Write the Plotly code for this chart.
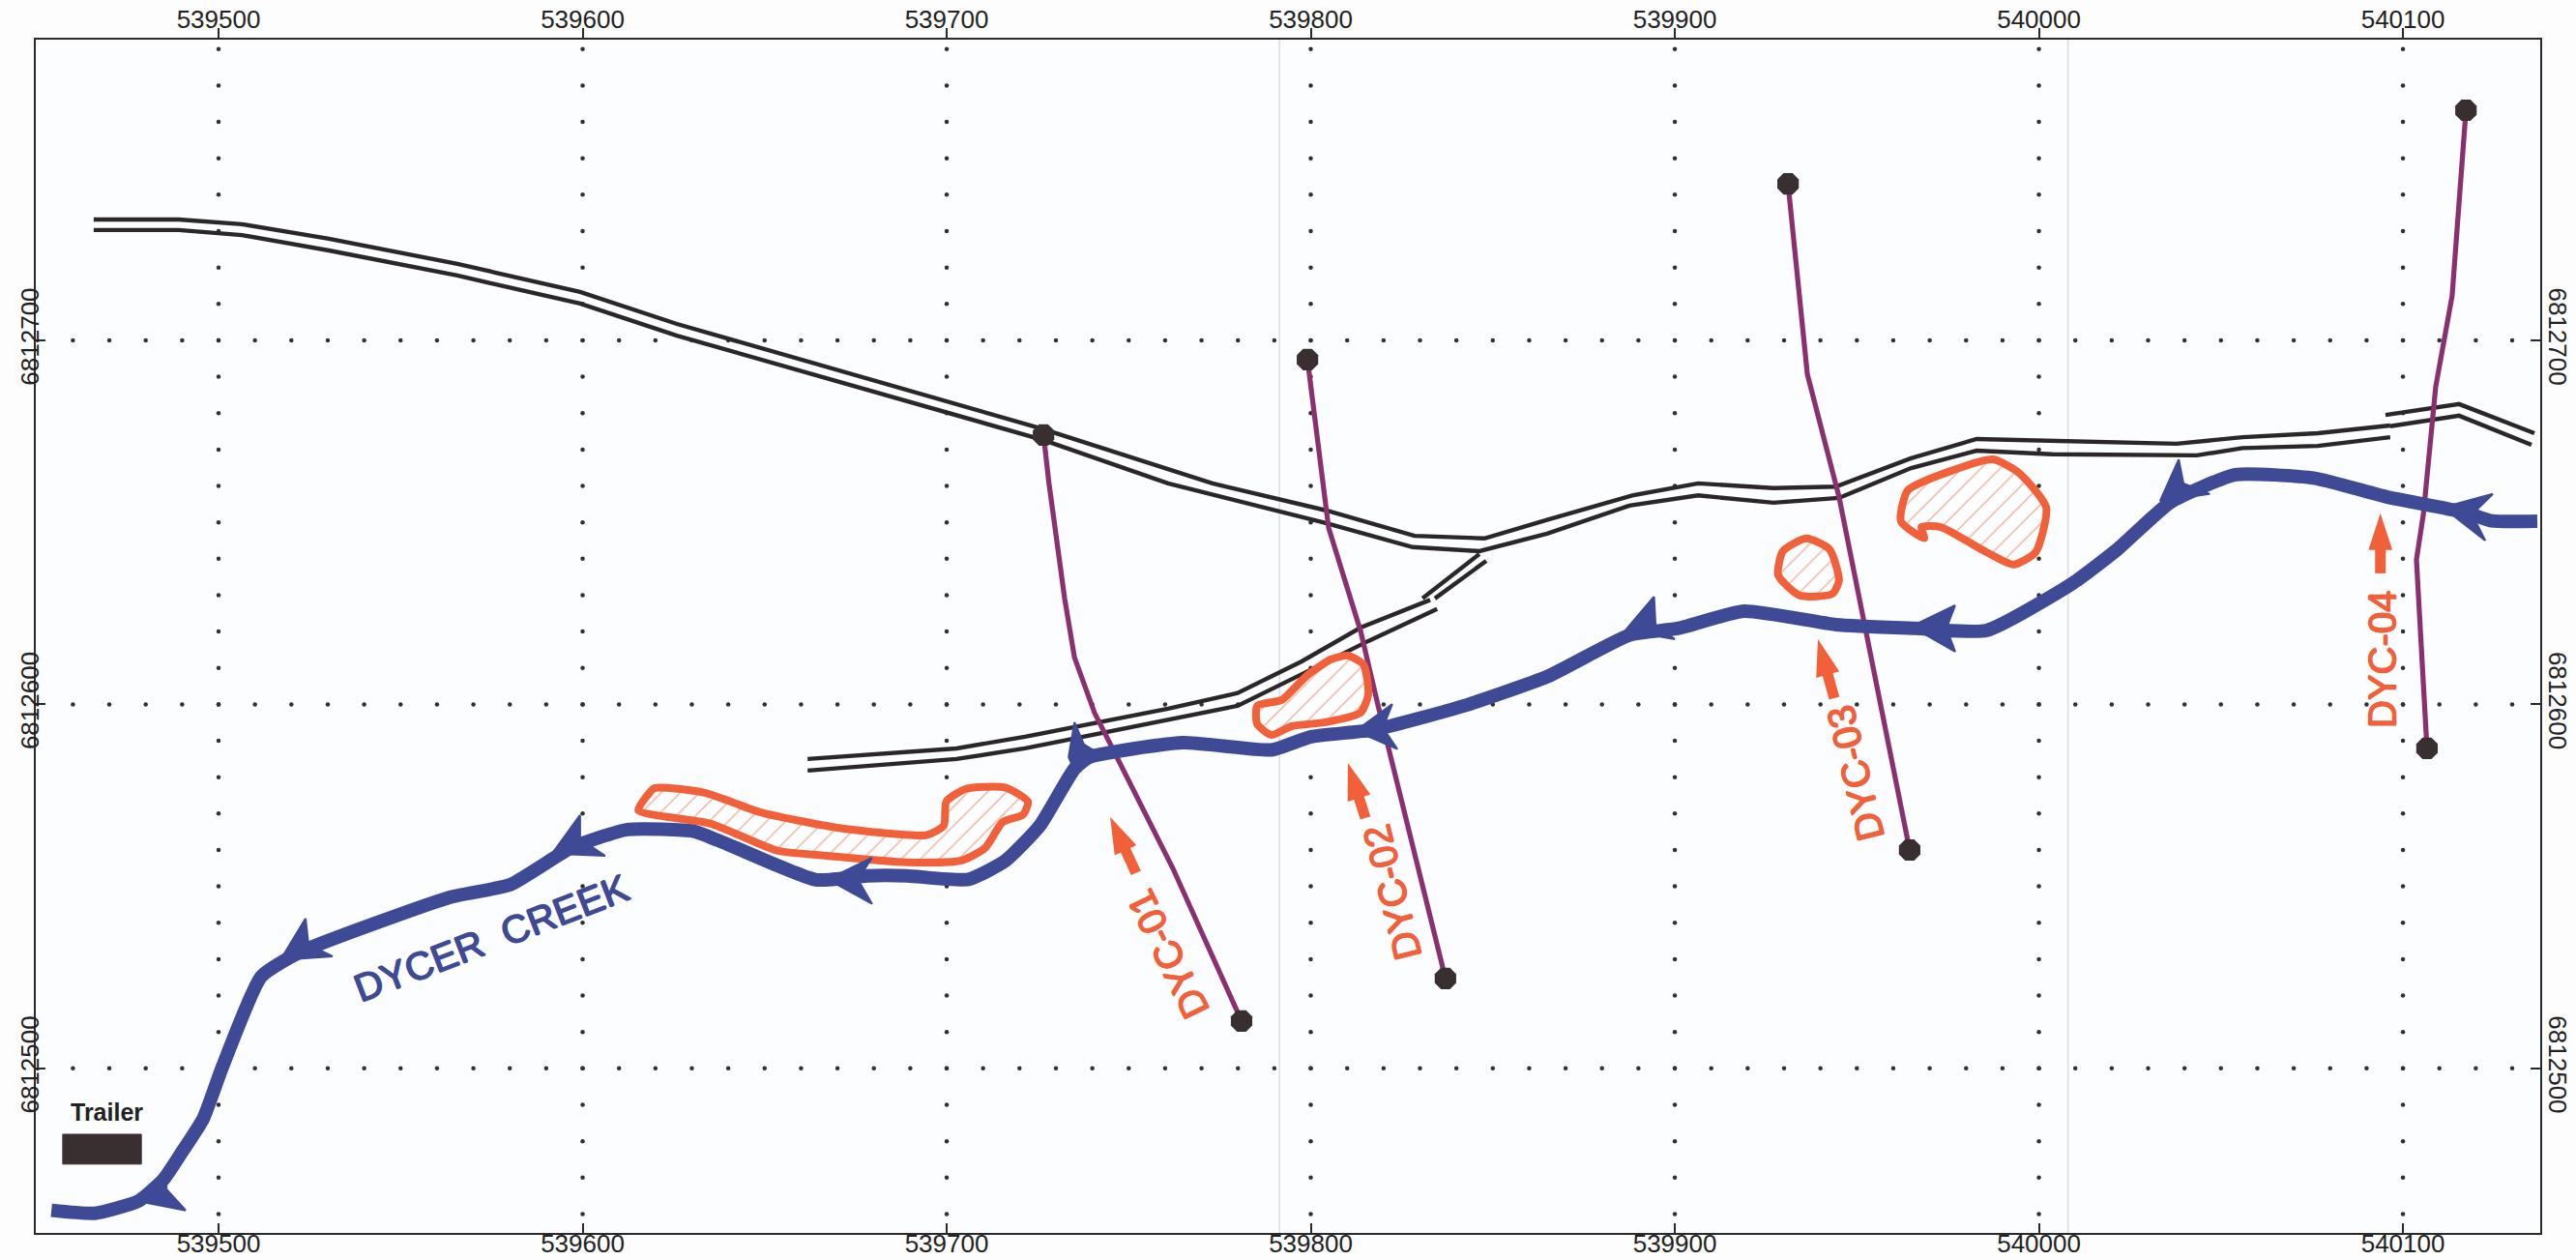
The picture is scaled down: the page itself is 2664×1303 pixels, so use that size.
import plotly.graph_objects as go

# Axis ticks
x_ticks = [539500, 539600, 539700, 539800, 539900, 540000, 540100]
y_ticks = [6812500, 6812600, 6812700]
x_range = [539449.8, 540137.7]
y_range = [6812454.8, 6812782.6]

# Road: main double line
road_upper_x = [539465.7, 539489.1, 539506.4, 539530.3, 539565.6, 539599.3, 539625.9, 539726.6, 539773.0, 539804.1, 539828.5, 539847.7, 539864.9, 539888.3, 539906.4, 539927.1, 539944.2, 539964.9, 539982.9, 540003.6, 540037.8, 540055.9, 540076.6, 540096.5]
road_upper_y = [6812733.2, 6812733.2, 6812731.9, 6812727.9, 6812721.0, 6812713.3, 6812704.5, 6812675.6, 6812660.7, 6812653.3, 6812646.3, 6812645.6, 6812650.7, 6812657.4, 6812660.7, 6812659.4, 6812659.8, 6812667.6, 6812672.9, 6812672.4, 6812671.6, 6812673.4, 6812674.5, 6812676.6]
road_lower_x = [539465.7, 539489.1, 539506.4, 539530.3, 539565.6, 539599.3, 539625.9, 539726.6, 539760.8, 539804.1, 539828.0, 539846.3, 539864.9, 539887.5, 539906.4, 539927.1, 539945.1, 539964.9, 539982.9, 540003.6, 540043.4, 540055.9, 540076.6, 540096.5]
road_lower_y = [6812730.3, 6812730.3, 6812728.9, 6812724.7, 6812717.8, 6812710.1, 6812701.3, 6812672.6, 6812660.7, 6812649.8, 6812643.2, 6812642.1, 6812646.9, 6812654.6, 6812657.4, 6812655.4, 6812656.7, 6812664.9, 6812669.7, 6812668.7, 6812668.4, 6812670.4, 6812671.0, 6812673.4]
# Road: north-east end
ne_upper_x = [540095.2, 540115.4, 540136.1]
ne_upper_y = [6812679.5, 6812682.5, 6812674.5]
ne_lower_x = [540096.5, 540115.4, 540135.3]
ne_lower_y = [6812676.4, 6812679.3, 6812671.3]
# Road: southern branch
branch_upper_x = [539661.8, 539702.7, 539721.5, 539760.8, 539779.9, 539797.5, 539813.7, 539832.8]
branch_upper_y = [6812585.0, 6812587.9, 6812591.1, 6812598.8, 6812603.1, 6812611.8, 6812621.1, 6812628.7]
branch_lower_x = [539661.8, 539702.7, 539721.5, 539760.8, 539779.9, 539798.8, 539815.8, 539834.7]
branch_lower_y = [6812581.8, 6812585.0, 6812587.9, 6812595.6, 6812599.6, 6812608.9, 6812617.4, 6812626.2]
spur_upper_x = [539830.7, 539846.3]
spur_upper_y = [6812629.1, 6812641.3]
spur_lower_x = [539834.1, 539848.2]
spur_lower_y = [6812629.1, 6812639.4]

# Creek centre line
creek_x = [539454.1, 539466.0, 539478.1, 539484.9, 539490.2, 539495.8, 539501.1, 539511.7, 539522.3, 539563.5, 539580.2, 539596.9, 539612.3, 539630.7, 539639.7, 539664.1, 539678.2, 539689.1, 539706.0, 539716.2, 539725.6, 539735.1, 539739.2, 539764.9, 539789.2, 539800.1, 539817.8, 539842.1, 539864.9, 539887.5, 539901.1, 539919.0, 539944.2, 539965.9, 539985.6, 540009.2, 540021.6, 540036.1, 540054.0, 540075.8, 540095.5, 540117.3, 540124.4, 540136.9]
creek_y = [6812461.0, 6812460.2, 6812463.6, 6812469.5, 6812477.4, 6812486.2, 6812500.5, 6812525.2, 6812531.9, 6812547.0, 6812550.5, 6812560.6, 6812565.6, 6812565.1, 6812561.6, 6812551.8, 6812552.9, 6812552.9, 6812551.9, 6812557.1, 6812566.7, 6812582.3, 6812585.5, 6812589.5, 6812587.5, 6812591.1, 6812593.1, 6812599.6, 6812607.6, 6812619.0, 6812620.9, 6812625.6, 6812621.9, 6812620.9, 6812620.3, 6812633.2, 6812642.6, 6812655.5, 6812663.1, 6812662.1, 6812657.0, 6812652.7, 6812650.4, 6812650.3]

# Creek flow arrowheads
head_1_x = [539491.0, 539477.4, 539485.7, 539485.7]
head_1_y = [6812461.0, 6812463.6, 6812472.6, 6812466.8]
head_2_x = [539523.9, 539517.0, 539531.3, 539524.7]
head_2_y = [6812541.2, 6812529.8, 6812530.8, 6812534.0]
head_3_x = [539599.3, 539591.6, 539606.2, 539599.3]
head_3_y = [6812569.6, 6812559.0, 6812558.4, 6812563.0]
head_4_x = [539679.5, 539667.3, 539679.5, 539675.6]
head_4_y = [6812557.9, 6812551.9, 6812545.2, 6812551.9]
head_5_x = [539735.1, 539733.5, 539735.1, 539742.5, 539737.7]
head_5_y = [6812595.1, 6812585.5, 6812581.8, 6812586.1, 6812589.0]
head_6_x = [539822.4, 539812.3, 539823.8, 539819.8]
head_6_y = [6812600.1, 6812592.7, 6812587.7, 6812593.6]
head_7_x = [539894.3, 539886.4, 539900.0, 539894.7]
head_7_y = [6812629.6, 6812620.3, 6812617.9, 6812621.9]
head_8_x = [539977.0, 539964.9, 539977.0, 539974.6]
head_8_y = [6812627.2, 6812621.4, 6812614.5, 6812620.9]
head_9_x = [540038.4, 540033.3, 540046.9, 540039.7]
head_9_y = [6812667.3, 6812655.9, 6812657.8, 6812660.7]
head_10_x = [540124.7, 540110.9, 540122.6, 540119.0]
head_10_y = [6812657.8, 6812654.1, 6812645.0, 6812652.2]

# Survey lines
dyc01_x = [539726.6, 539728.1, 539732.4, 539735.1, 539740.6, 539762.1, 539781.0]
dyc01_y = [6812674.0, 6812660.7, 6812629.1, 6812612.9, 6812597.7, 6812555.0, 6812513.0]
dyc02_x = [539799.1, 539803.6, 539804.9, 539813.7, 539818.5, 539837.0]
dyc02_y = [6812694.7, 6812660.7, 6812648.5, 6812620.1, 6812599.6, 6812524.7]
dyc03_x = [539931.1, 539936.4, 539945.1, 539952.3, 539964.5]
dyc03_y = [6812743.0, 6812690.7, 6812657.0, 6812620.9, 6812560.0]
dyc04_x = [540117.3, 540113.5, 540109.0, 540105.6, 540103.7, 540106.6]
dyc04_y = [6812763.2, 6812712.2, 6812687.3, 6812652.2, 6812639.7, 6812587.9]

# Line end points
end_x = [539726.6, 539781.0, 539799.1, 539837.0, 539931.1, 539964.5, 540117.3, 540106.6]
end_y = [6812674.0, 6812513.0, 6812694.7, 6812524.7, 6812743.0, 6812560.0, 6812763.2, 6812587.9]

# Hatched areas
area_1_x = [539619.8, 539633.6, 539648.7, 539670.0, 539694.4, 539699.2, 539699.9, 539705.3, 539716.2, 539722.3, 539721.0, 539715.4, 539710.6, 539704.0, 539689.1, 539666.0, 539653.5, 539635.2, 539615.3, 539617.7, 539619.8]
area_1_y = [6812577.0, 6812575.7, 6812570.4, 6812566.1, 6812564.1, 6812566.7, 6812573.3, 6812576.8, 6812577.1, 6812573.3, 6812569.7, 6812567.7, 6812560.6, 6812557.1, 6812556.6, 6812558.5, 6812559.8, 6812567.2, 6812570.9, 6812574.9, 6812577.0]
area_2_x = [539810.2, 539814.5, 539815.8, 539813.7, 539804.1, 539794.8, 539789.2, 539785.3, 539785.3, 539792.0, 539798.8, 539805.6, 539810.2]
area_2_y = [6812613.4, 6812610.9, 6812602.8, 6812597.7, 6812595.1, 6812594.0, 6812591.6, 6812594.6, 6812599.6, 6812601.2, 6812607.8, 6812612.4, 6812613.4]
area_3_x = [539936.1, 539942.5, 539945.1, 539943.3, 539934.3, 539928.4, 539929.7, 539936.1]
area_3_y = [6812645.6, 6812642.6, 6812634.1, 6812630.4, 6812629.9, 6812635.5, 6812642.1, 6812645.6]
area_4_x = [539987.4, 539994.5, 540002.0, 539999.1, 539993.0, 539985.6, 539973.0, 539967.7, 539968.5, 539962.1, 539964.0, 539976.6, 539987.4]
area_4_y = [6812667.3, 6812663.6, 6812654.1, 6812641.8, 6812638.4, 6812641.8, 6812648.7, 6812648.7, 6812645.6, 6812650.3, 6812658.8, 6812664.4, 6812667.3]

# Trailer block
trailer_x = [539457.2, 539478.8, 539478.8, 539457.2, 539457.2]
trailer_y = [6812481.9, 6812481.9, 6812473.7, 6812473.7, 6812481.9]

# Paper fold lines
fold_x = [539791.4, 540008.0]

# Labels
line_labels = ["DYC-01", "DYC-02", "DYC-03", "DYC-04"]
label_x = [539760.8, 539822.4, 539949.6, 540094.2]
label_y = [6812531.3, 6812548.3, 6812581.0, 6812612.4]
label_angle = [-116, -104, -103.5, -90]
pointer_tail_x = [539752.0, 539815.0, 539943.8, 540093.8]
pointer_tail_y = [6812553.7, 6812568.8, 6812601.7, 6812636.0]
pointer_tip_x = [539744.9, 539810.2, 539939.3, 540093.8]
pointer_tip_y = [6812569.1, 6812583.9, 6812617.9, 6812652.5]

BLUE = "#3F4A96"
ORANGE = "#F2603A"
PURPLE = "#8A2F6F"
DARK = "#3A2F30"
ROAD = "#2B2728"
FONT = "Liberation Sans"


def thick(color):
    return f"0.8px 0 0 {color}, -0.8px 0 0 {color}, 0 0.8px 0 {color}, 0 -0.8px 0 {color}"


fig = go.Figure()

# Fold lines
for fx in fold_x:
    fig.add_trace(go.Scatter(x=[fx, fx], y=y_range, mode="lines",
                             line=dict(color="#D8DCEA", width=1.5)))

# Dotted grid (a dot every 10 units along each major grid line)
x_all = list(range(539460, 540131, 10))
y_all = list(range(6812460, 6812781, 10))
grid_x = [v for t in y_ticks for v in x_all] + [t for t in x_ticks for v in y_all]
grid_y = [t for t in y_ticks for v in x_all] + [v for t in x_ticks for v in y_all]
fig.add_trace(go.Scatter(x=grid_x, y=grid_y, mode="markers",
                         marker=dict(color="#2F3134", size=4.5, line=dict(width=0))))

# Roads
for xs, ys in [(road_upper_x, road_upper_y), (road_lower_x, road_lower_y),
               (ne_upper_x, ne_upper_y), (ne_lower_x, ne_lower_y),
               (branch_upper_x, branch_upper_y), (branch_lower_x, branch_lower_y),
               (spur_upper_x, spur_upper_y), (spur_lower_x, spur_lower_y)]:
    fig.add_trace(go.Scatter(x=xs, y=ys, mode="lines", line=dict(color=ROAD, width=4.4)))

# Survey lines
for xs, ys in [(dyc01_x, dyc01_y), (dyc02_x, dyc02_y), (dyc03_x, dyc03_y), (dyc04_x, dyc04_y)]:
    fig.add_trace(go.Scatter(x=xs, y=ys, mode="lines", line=dict(color=PURPLE, width=5.2)))

# Hatched areas
for xs, ys in [(area_1_x, area_1_y), (area_2_x, area_2_y), (area_3_x, area_3_y), (area_4_x, area_4_y)]:
    fig.add_trace(go.Scatter(x=xs, y=ys, mode="lines", fill="toself",
                             line=dict(color=ORANGE, width=8, shape="spline", smoothing=0.6),
                             fillcolor="rgba(255,255,255,0)",
                             fillpattern=dict(shape="/", fgcolor="#E0633C", bgcolor="#FDFEFF",
                                              size=14, solidity=0.1)))

# Creek
fig.add_trace(go.Scatter(x=creek_x, y=creek_y, mode="lines",
                         line=dict(color=BLUE, width=14, shape="spline", smoothing=0.5)))
for xs, ys in [(head_1_x, head_1_y), (head_2_x, head_2_y), (head_3_x, head_3_y), (head_4_x, head_4_y),
               (head_5_x, head_5_y), (head_6_x, head_6_y), (head_7_x, head_7_y), (head_8_x, head_8_y),
               (head_9_x, head_9_y), (head_10_x, head_10_y)]:
    fig.add_trace(go.Scatter(x=xs + xs[:1], y=ys + ys[:1], mode="lines", fill="toself",
                             line=dict(color=BLUE, width=2), fillcolor=BLUE))

# End points
fig.add_trace(go.Scatter(x=end_x, y=end_y, mode="markers",
                         marker=dict(symbol="octagon", color=DARK, size=24, line=dict(width=0))))

# Trailer
fig.add_trace(go.Scatter(x=trailer_x, y=trailer_y, mode="lines", fill="toself",
                         line=dict(color=DARK, width=1), fillcolor=DARK))

# Orange pointers: a shaft up to the neck of the head, then a head at the tip
for tx, ty, hx, hy in zip(pointer_tail_x, pointer_tail_y, pointer_tip_x, pointer_tip_y):
    fig.add_trace(go.Scatter(x=[tx, tx + 0.62 * (hx - tx)], y=[ty, ty + 0.62 * (hy - ty)], mode="lines",
                             line=dict(color=ORANGE, width=11)))
    fig.add_trace(go.Scatter(x=[tx, hx], y=[ty, hy], mode="markers",
                             marker=dict(symbol="arrow", size=[0, 40], angleref="previous", opacity=1,
                                         color=ORANGE, line=dict(width=0))))

# Dummy trace that activates the top/right axes
fig.add_trace(go.Scatter(x=[x_ticks[0]], y=[y_ticks[0]], xaxis="x2", yaxis="y2",
                         mode="markers", marker=dict(opacity=0)))

annotations = []
for name, lx, ly, ang in zip(line_labels, label_x, label_y, label_angle):
    annotations.append(dict(x=lx, y=ly, xref="x", yref="y", text=name, showarrow=False,
                            textangle=ang,
                            font=dict(family=FONT, size=40, color=ORANGE, shadow=thick(ORANGE))))
annotations.append(dict(x=539574.9, y=6812535.9, xref="x", yref="y", text="DYCER\u00a0\u00a0CREEK",
                        showarrow=False, textangle=-21,
                        font=dict(family=FONT, size=40, color=BLUE, shadow=thick(BLUE))))
annotations.append(dict(x=539469.2, y=6812488.0, xref="x", yref="y", text="<b>Trailer</b>",
                        showarrow=False, font=dict(family=FONT, size=25, color="#222222")))

axis_common = dict(showgrid=False, zeroline=False, showline=True, linecolor="#2A2A2A", linewidth=1.6,
                   tickcolor="#2A2A2A", tickwidth=1.6, ticklen=10,
                   tickfont=dict(family=FONT, size=26, color="#222222"), tickmode="array")

fig.update_layout(
    width=2664, height=1303,
    margin=dict(l=37, r=37, t=41, b=28, autoexpand=False),
    paper_bgcolor="#FDFDFD", plot_bgcolor="#FBFDFF",
    showlegend=False,
    annotations=annotations,
    xaxis=dict(range=x_range, tickvals=x_ticks, ticktext=[str(v) for v in x_ticks],
               ticks="inside", side="bottom", tickangle=0, ticklabelstandoff=-13, **axis_common),
    xaxis2=dict(range=x_range, tickvals=x_ticks, ticktext=[str(v) for v in x_ticks],
                ticks="outside", side="top", overlaying="x", tickangle=0, ticklabelstandoff=-10, **axis_common),
    yaxis=dict(range=y_range, tickvals=y_ticks, ticktext=[str(v) for v in y_ticks],
               ticks="inside", side="left", tickangle=-90, ticklabelstandoff=-15, **axis_common),
    yaxis2=dict(range=y_range, tickvals=y_ticks, ticktext=[str(v) for v in y_ticks],
                ticks="inside", side="right", overlaying="y", tickangle=90, ticklabelstandoff=-3, **axis_common),
)

fig.write_html("out.html", config=dict(displayModeBar=False),
               post_script="document.body.style.margin='0';")
